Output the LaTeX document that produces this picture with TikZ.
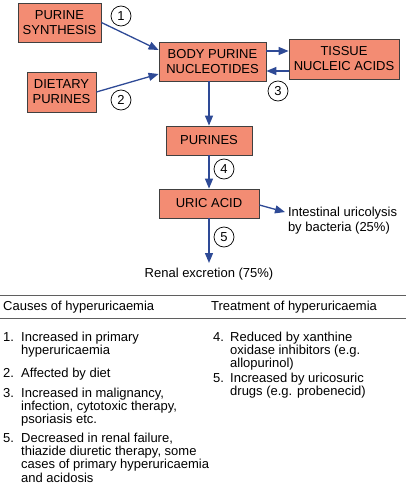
\documentclass[tikz,border=0pt]{standalone}
\usepackage{fontspec}
\setmainfont{Liberation Sans}
\usetikzlibrary{arrows.meta}
\definecolor{boxfill}{RGB}{243,140,115}
\definecolor{arrowblue}{RGB}{46,74,150}
\definecolor{rulegray}{RGB}{95,95,95}
\newcommand{\itemno}[1]{\makebox[18pt][l]{#1}}
\newcommand{\itemgap}{\hspace*{18pt}}
\tikzset{
  box/.style={draw=black!75, fill=boxfill, line width=0.8pt, align=center,
    inner sep=0pt, font=\fontsize{13}{15}\selectfont},
  flow/.style={draw=arrowblue, line width=1.3pt, -{Triangle[length=10pt,width=8pt]}},
  num/.style={draw, circle, minimum size=20pt, inner sep=0pt, line width=0.7pt,
    font=\fontsize{13}{15}\selectfont},
  txt/.style={inner sep=0pt, align=left, font=\fontsize{13}{13.3}\selectfont},
}
\begin{document}
\begin{tikzpicture}[x=1pt,y=-1pt]
  \useasboundingbox (0,0) rectangle (406,500);
  % boxes
  \node[box, minimum width=83pt, minimum height=39pt] (synth) at (59.5,22.5) {PURINE\\SYNTHESIS};
  \node[box, minimum width=69pt, minimum height=40pt] (diet) at (61.5,92) {DIETARY\\PURINES};
  \node[box, minimum width=107pt, minimum height=39pt] (body) at (212.5,61.5) {BODY PURINE\\NUCLEOTIDES};
  \node[box, minimum width=110pt, minimum height=40pt] (tissue) at (344,59) {TISSUE\\NUCLEIC ACIDS};
  \node[box, minimum width=86pt, minimum height=29pt] (purines) at (209,140.5) {PURINES};
  \node[box, minimum width=100pt, minimum height=29pt] (uric) at (209,203.5) {URIC ACID};
  % end labels
  \node[txt, anchor=north, outer sep=5pt] (renal) at (209,263) {Renal excretion (75\%)};
  \node[txt, anchor=north west, outer sep=3pt, font=\fontsize{13}{15}\selectfont] (intest) at (285,204) {Intestinal uricolysis\\by bacteria (25\%)};
  % arrows
  \draw[flow] (synth.east) -- ([yshift=11.5pt]body.west);
  \draw[flow] (diet.east) -- ([yshift=-12.5pt]body.west);
  \draw[flow] ([yshift=10.5pt]body.east) -- ([yshift=8pt]tissue.west);
  \draw[flow] ([yshift=-12pt]tissue.west) -- ([yshift=-9.5pt]body.east);
  \draw[flow] (purines.north |- body.south) -- (purines.north);
  \draw[flow] (purines.south) -- (uric.north);
  \draw[flow] ([yshift=-1.5pt]uric.east) -- ([yshift=8.5pt]intest.west);
  \draw[flow] (uric.south) -- (renal.north);
  % step numbers
  \node[num] (s1) at (121,16) {1};
  \node[num] (s2) at (121,100) {2};
  \node[num] (s3) at (278,91) {3};
  \node[num] (s4) at (224,169) {4};
  \node[num] (s5) at (224,237) {5};
  % table rules
  \draw[rulegray, line width=0.8pt] (0,295) -- (406,295);
  \draw[rulegray, line width=0.8pt] (0,318) -- (406,318);
  % table headings
  \node[txt, anchor=base west] (hcause) at (3,310) {Causes of hyperuricaemia};
  \node[txt, anchor=base west] (htreat) at (211,310) {Treatment of hyperuricaemia};
  % causes
  \node[txt, anchor=north west] (c1) at (3,331.5) {\itemno{1.}Increased in primary\\\itemgap hyperuricaemia};
  \node[txt, anchor=north west] (c2) at (3,368) {\itemno{2.}Affected by diet};
  \node[txt, anchor=north west] (c3) at (3,387.5) {\itemno{3.}Increased in malignancy,\\\itemgap infection, cytotoxic therapy,\\\itemgap psoriasis etc.};
  \node[txt, anchor=north west] (c5) at (3,432.5) {\itemno{5.}Decreased in renal failure,\\\itemgap thiazide diuretic therapy, some\\\itemgap cases of primary hyperuricaemia\\\itemgap and acidosis};
  % treatments
  \node[txt, anchor=north west] (r4) at (213,331.5) {\makebox[17pt][l]{4.}Reduced by xanthine\\\hspace*{17pt}oxidase inhibitors (e.g.\\\hspace*{17pt}allopurinol)};
  \node[txt, anchor=north west] (r5) at (213,372.5) {\makebox[17pt][l]{5.}Increased by uricosuric\\\hspace*{17pt}drugs (e.g. probenecid)};
\end{tikzpicture}
\end{document}
